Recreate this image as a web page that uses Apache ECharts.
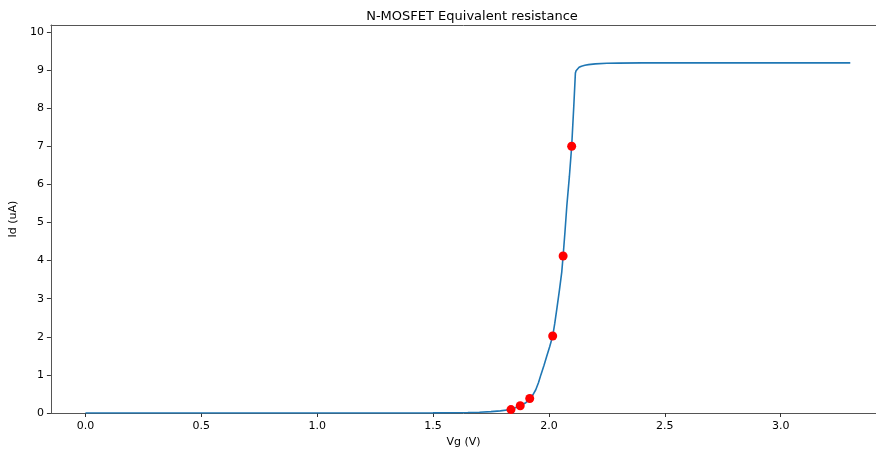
<!DOCTYPE html>
<html>
<head>
<meta charset="utf-8">
<script src="https://cdn.jsdelivr.net/npm/echarts@6/dist/echarts.min.js"></script>
<style>
  html, body { margin: 0; padding: 0; background: #fff; }
  #main { width: 876px; height: 453px; }
</style>
</head>
<body>
<div id="main"></div>
<script>
// curve
var vgCurve = [0, 1.5, 1.6, 1.65, 1.7, 1.75, 1.79, 1.836, 1.876, 1.9, 1.917, 1.93, 1.943, 1.955, 1.965, 1.978, 1.99, 2.003, 2.016, 2.025, 2.035, 2.045, 2.055, 2.061, 2.069, 2.077, 2.088, 2.098, 2.107, 2.114, 2.117, 2.122, 2.13, 2.14, 2.155, 2.17, 2.2, 2.25, 2.3, 2.4, 3.3];
var idCurve = [0, 0.003, 0.008, 0.012, 0.02, 0.035, 0.055, 0.09, 0.19, 0.27, 0.36, 0.47, 0.61, 0.8, 1.0, 1.24, 1.48, 1.74, 2.02, 2.35, 2.78, 3.22, 3.69, 4.12, 4.75, 5.43, 6.2, 7.0, 8.04, 8.92, 8.98, 9.03, 9.07, 9.1, 9.125, 9.14, 9.16, 9.175, 9.18, 9.185, 9.185];
// red markers
var vgPts = [1.836, 1.876, 1.917, 2.016, 2.061, 2.098];
var idPts = [0.09, 0.19, 0.38, 2.02, 4.12, 7.0];
var xTicks = [0, 0.5, 1.0, 1.5, 2.0, 2.5, 3.0];
var yTicks = [0, 1, 2, 3, 4, 5, 6, 7, 8, 9, 10];

function pairs(xs, ys) {
    var out = [];
    for (var i = 0; i < xs.length; i++) out.push([xs[i], ys[i]]);
    return out;
}

var myChart = echarts.init(document.getElementById('main'));
var font = 'DejaVu Sans';
var xMin = -0.149, xMax = 3.411;
var option = {
    animation: false,
    title: {
        text: 'N-MOSFET Equivalent resistance',
        left: 467, top: 5,
        textAlign: 'center',
        textStyle: { fontFamily: font, fontSize: 13, fontWeight: 'normal', color: '#000' }
    },
    grid: { left: 48, right: 0, top: 25, bottom: 40, show: false },
    xAxis: [
        {
            type: 'value',
            min: xMin, max: xMax,
            name: 'Vg (V)', nameLocation: 'middle', nameGap: 22,
            nameTextStyle: { fontFamily: font, fontSize: 11, color: '#000' },
            splitLine: { show: false },
            axisLine: { onZero: false, lineStyle: { color: '#555' } },
            axisTick: { show: true, length: 4, customValues: xTicks, lineStyle: { color: '#333' } },
            axisLabel: {
                customValues: xTicks, margin: 8,
                fontFamily: font, fontSize: 11, color: '#000',
                formatter: function (v) { return v.toFixed(1); }
            }
        },
        {
            // top spine only
            type: 'value', position: 'top',
            min: xMin, max: xMax,
            splitLine: { show: false },
            axisLine: { onZero: false, lineStyle: { color: '#555' } },
            axisTick: { show: false },
            axisLabel: { show: false }
        }
    ],
    yAxis: {
        type: 'value',
        min: 0, max: 10.18,
        name: 'Id (uA)', nameLocation: 'middle', nameGap: 30, nameRotate: 90,
        nameTextStyle: { fontFamily: font, fontSize: 11, color: '#000' },
        splitLine: { show: false },
        axisLine: { show: true, onZero: false, lineStyle: { color: '#555' } },
        axisTick: { show: true, length: 4, customValues: yTicks, lineStyle: { color: '#333' } },
        axisLabel: { customValues: yTicks, margin: 7, fontFamily: font, fontSize: 11, color: '#000' }
    },
    series: [
        {
            type: 'line',
            data: pairs(vgCurve, idCurve),
            showSymbol: false,
            smooth: false,
            lineStyle: { color: '#1f77b4', width: 1.6 },
            z: 2
        },
        {
            type: 'scatter',
            data: pairs(vgPts, idPts),
            symbol: 'circle',
            symbolSize: 9,
            itemStyle: { color: '#ff0000', opacity: 1 },
            z: 3
        }
    ]
};
myChart.setOption(option);
</script>
</body>
</html>
